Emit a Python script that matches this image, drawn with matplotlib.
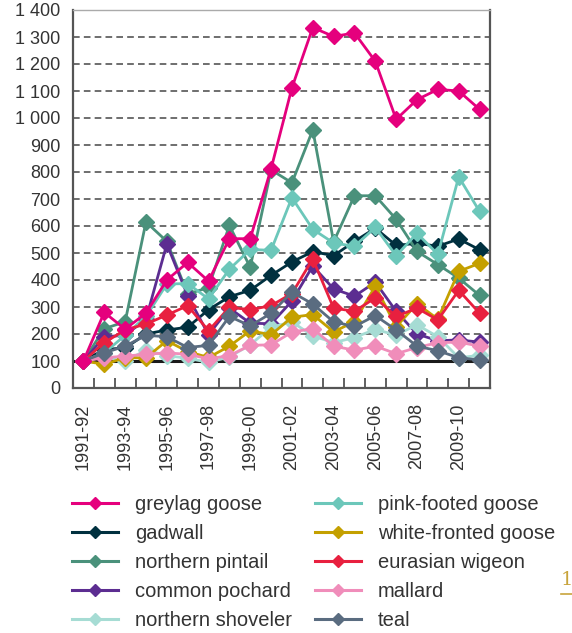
import matplotlib.pyplot as plt
from matplotlib.lines import Line2D
import numpy as np

plt.rcParams['font.family'] = ['Liberation Sans', 'DejaVu Sans']

seasons = ['1991-92', '1992-93', '1993-94', '1994-95', '1995-96', '1996-97',
           '1997-98', '1998-99', '1999-00', '2000-01', '2001-02', '2002-03',
           '2003-04', '2004-05', '2005-06', '2006-07', '2007-08', '2008-09',
           '2009-10', '2010-11']

# index values, 1991-92 = 100
greylag_goose = [100, 280, 218, 277, 400, 465, 396, 553, 553, 812, 1112, 1335,
                 1302, 1315, 1210, 995, 1068, 1106, 1100, 1032]
gadwall = [100, 143, 148, 200, 215, 225, 290, 338, 362, 417, 467, 505,
           490, 543, 592, 528, 536, 525, 552, 512]
northern_pintail = [100, 220, 245, 615, 543, 348, 372, 602, 447, 808, 760, 956,
                    541, 712, 712, 625, 506, 457, 407, 343]
common_pochard = [100, 190, 195, 255, 533, 342, 197, 296, 240, 238, 322, 452,
                  367, 340, 392, 284, 200, 175, 178, 170]
northern_shoveler = [100, 115, 100, 140, 120, 110, 95, 115, 160, 225, 245, 193,
                     168, 187, 217, 196, 234, 190, 112, 121]
pink_footed_goose = [100, 130, 195, 265, 385, 387, 330, 440, 513, 510, 705, 588,
                     537, 525, 595, 490, 573, 495, 782, 654]
white_fronted_goose = [100, 88, 112, 112, 175, 135, 113, 155, 212, 197, 262, 272,
                       208, 246, 377, 227, 312, 255, 432, 462]
eurasian_wigeon = [100, 168, 215, 237, 270, 305, 212, 299, 290, 305, 350, 478,
                   296, 284, 334, 265, 296, 252, 362, 277]
mallard = [100, 112, 118, 125, 130, 125, 108, 120, 158, 160, 207, 220,
           155, 140, 155, 127, 150, 168, 170, 155]
teal = [100, 130, 155, 195, 190, 150, 158, 265, 230, 277, 355, 311,
        245, 228, 268, 215, 155, 138, 112, 104]

series = [
    ('greylag goose', greylag_goose, '#E5007D'),
    ('gadwall', gadwall, '#00303F'),
    ('northern pintail', northern_pintail, '#4A917B'),
    ('common pochard', common_pochard, '#5C2D91'),
    ('northern shoveler', northern_shoveler, '#A6DCD4'),
    ('pink-footed goose', pink_footed_goose, '#6CC7BA'),
    ('white-fronted goose', white_fronted_goose, '#C4A000'),
    ('eurasian wigeon', eurasian_wigeon, '#E8203F'),
    ('mallard', mallard, '#F08DBA'),
    ('teal', teal, '#5A6C80'),
]

fig = plt.figure(figsize=(5.72, 6.33), dpi=100)
ax = fig.add_axes([73 / 572, 1 - 388 / 633, 417 / 572, 378 / 633])

x = np.arange(len(seasons))
handles = []
for name, vals, color in series:
    z = 4 if name == 'greylag goose' else 3
    ax.plot(x, vals, color=color, lw=2.0, marker='D', ms=8, mec=color, zorder=z)
    handles.append(Line2D([], [], color=color, lw=2.2, marker='D', ms=6,
                          mec=color, label=name))

# dashed reference lines and the solid baseline at 100
for v in range(200, 1400, 100):
    ax.axhline(v, color='#555555', lw=1.2, dashes=(4, 2.5), zorder=1)
ax.axhline(100, color='#1a1a1a', lw=2.2, zorder=1.5)

ax.set_xlim(-0.5, len(seasons) - 0.5)
ax.set_ylim(0, 1400)
yt = list(range(0, 1500, 100))
ax.set_yticks(yt)
ax.set_yticklabels([f'{v:,}'.replace(',', ' ') for v in yt])
ax.tick_params(axis='y', length=0, pad=9, labelsize=13, labelcolor='#333333')

ax.set_xticks(x[::2])
ax.set_xticklabels(seasons[::2], rotation=90)
ax.tick_params(axis='x', which='major', length=0, pad=11, labelsize=13,
               labelcolor='#333333')
ax.set_xticks(np.arange(0.5, len(seasons) - 1, 1), minor=True)
ax.tick_params(axis='x', which='minor', direction='in', length=7, width=1.2,
               color='#444444')

for side in ('left', 'right', 'bottom'):
    ax.spines[side].set_color('#555555')
    ax.spines[side].set_linewidth(1.6)
ax.spines['top'].set_color('#aaaaaa')
ax.spines['top'].set_linewidth(1.0)

fig.legend(handles=handles, loc='upper left',
           bbox_to_anchor=(72 / 572, 1 - 495 / 633), ncol=2, frameon=False,
           fontsize=14.5, handlelength=2.3, handletextpad=0.85, columnspacing=1.1,
           labelspacing=0.5, borderpad=0, borderaxespad=0,
           labelcolor='#333333')

# page number peeking in at the right edge
fig.text(561 / 572, 1 - 589 / 633, '1', color='#C8A43C', fontsize=14,
         family='DejaVu Serif', va='bottom', ha='left')
fig.add_artist(Line2D([561 / 572, 1], [1 - 594 / 633] * 2, color='#C8A43C',
                      lw=1.2, transform=fig.transFigure))

fig.savefig('out.png', dpi=100)
